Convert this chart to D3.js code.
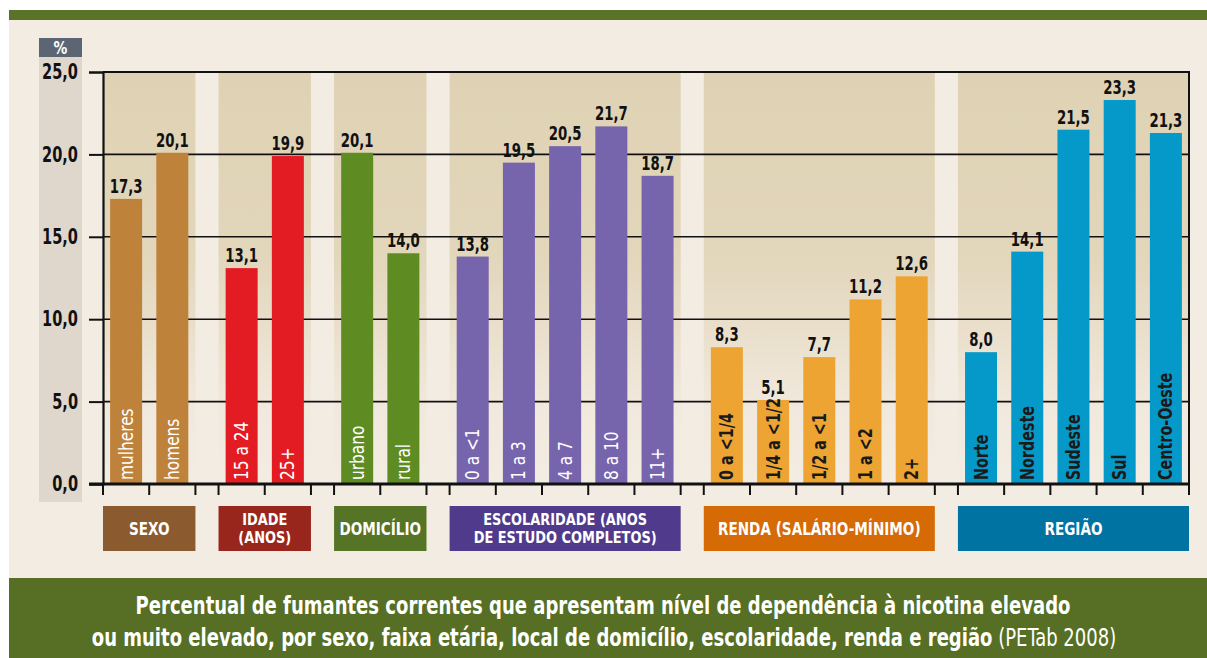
<!DOCTYPE html>
<html><head><meta charset="utf-8">
<script src="https://cdn.jsdelivr.net/npm/d3@7"></script>
<style>
html,body{margin:0;padding:0;background:#fff;}
svg{display:block;}
text{font-family:"DejaVu Sans Condensed","Liberation Sans Narrow",sans-serif;}
</style></head>
<body>
<svg id="c" width="1207" height="658"></svg>
<script>
// ---- data ----
const groupNames = ["SEXO", "IDADE\n(ANOS)", "DOMICÍLIO", "ESCOLARIDADE (ANOS\nDE ESTUDO COMPLETOS)", "RENDA (SALÁRIO-MÍNIMO)", "REGIÃO"];
const sexoCats = ["mulheres", "homens"];
const sexoVals = [17.3, 20.1];
const idadeCats = ["15 a 24", "25+"];
const idadeVals = [13.1, 19.9];
const domicilioCats = ["urbano", "rural"];
const domicilioVals = [20.1, 14.0];
const escolaridadeCats = ["0 a <1", "1 a 3", "4 a 7", "8 a 10", "11+"];
const escolaridadeVals = [13.8, 19.5, 20.5, 21.7, 18.7];
const rendaCats = ["0 a <1/4", "1/4 a <1/2", "1/2 a <1", "1 a <2", "2+"];
const rendaVals = [8.3, 5.1, 7.7, 11.2, 12.6];
const regiaoCats = ["Norte", "Nordeste", "Sudeste", "Sul", "Centro-Oeste"];
const regiaoVals = [8.0, 14.1, 21.5, 23.3, 21.3];
const yTicks = [0, 5, 10, 15, 20, 25];
const captionLine1 = "Percentual de fumantes correntes que apresentam nível de dependência à nicotina elevado";
const captionLine2 = "ou muito elevado, por sexo, faixa etária, local de domicílio, escolaridade, renda e região";
const captionSource = " (PETab 2008)";

// ---- styles ----
const barColors = ["#bf823b", "#e31b23", "#5e8c22", "#7664ad", "#eda433", "#0599c9"];
const boxColors = ["#8b5a2e", "#98261c", "#557426", "#4f3a8c", "#d66a05", "#0073a3"];
const inLabelColors = ["#fff", "#fff", "#fff", "#fff", "#1a1a1a", "#1a1a1a"];

const groups = [
  [sexoCats, sexoVals], [idadeCats, idadeVals], [domicilioCats, domicilioVals],
  [escolaridadeCats, escolaridadeVals], [rendaCats, rendaVals], [regiaoCats, regiaoVals]
].map((g, i) => ({name: groupNames[i], cats: g[0], vals: g[1], idx: i}));

const gapUnits = 0.5;
let u = 0;
groups.forEach((g, i) => { g.start = u; g.end = u + g.cats.length; u = g.end + gapUnits; });
const totalUnits = groups[groups.length - 1].end;

const L = 103, R = 1189, T = 72, B = 484;
const x = d3.scaleLinear().domain([0, totalUnits]).range([L, R]);
const y = d3.scaleLinear().domain([0, 25]).range([B, T]);
const barW = 32;

const loc = d3.formatLocale({decimal: ",", thousands: ".", grouping: [3], currency: ["R$", ""]});
const f1 = loc.format(".1f");

const svg = d3.select("#c");

// backgrounds
svg.append("rect").attr("x", 9).attr("y", 10).attr("width", 1198).attr("height", 10).attr("fill", "#5a7328");
svg.append("rect").attr("x", 9).attr("y", 20).attr("width", 1198).attr("height", 558).attr("fill", "#f3ece2");
svg.append("rect").attr("x", 9).attr("y", 578).attr("width", 1198).attr("height", 80).attr("fill", "#566f24");

const defs = svg.append("defs");
const grad = defs.append("linearGradient").attr("id", "pg").attr("x1", 0).attr("y1", 0).attr("x2", 0).attr("y2", 1);
grad.append("stop").attr("offset", "0%").attr("stop-color", "#dfd2b4");
grad.append("stop").attr("offset", "45%").attr("stop-color", "#e2d6bb");
grad.append("stop").attr("offset", "82%").attr("stop-color", "#f1e9dd");
grad.append("stop").attr("offset", "100%").attr("stop-color", "#f3ece2");

// left gray band and % box
svg.append("rect").attr("x", 39).attr("y", 57).attr("width", 43).attr("height", 445).attr("fill", "#e0d7cc");
svg.append("rect").attr("x", 39).attr("y", 38).attr("width", 43).attr("height", 19).attr("fill", "#5b6574");
svg.append("text").attr("transform", "translate(60.5,54) scale(0.85,1)").attr("text-anchor", "middle").attr("fill", "#fff")
  .attr("font-weight", "bold").attr("font-size", 18).text("%");

// group panels
svg.append("g").selectAll("rect").data(groups).join("rect")
  .attr("x", d => x(d.start)).attr("width", d => x(d.end) - x(d.start))
  .attr("y", T).attr("height", B - T).attr("fill", "url(#pg)");

// gridlines
svg.append("g").selectAll("line").data(yTicks.filter(t => t > 0)).join("line")
  .attr("x1", L).attr("x2", R).attr("y1", d => y(d)).attr("y2", d => y(d))
  .attr("stroke", "#111").attr("stroke-width", d => d === 25 ? 2.2 : 1.6);

// right border
svg.append("line").attr("x1", R).attr("x2", R).attr("y1", T - 1).attr("y2", B + 11)
  .attr("stroke", "#111").attr("stroke-width", 2);

// bars
const bars = [];
groups.forEach(g => g.cats.forEach((c, i) => bars.push({g: g.idx, cat: c, val: g.vals[i], pos: g.start + i + 0.5})));

svg.append("g").selectAll("rect").data(bars).join("rect")
  .attr("x", d => x(d.pos) - barW / 2).attr("width", barW)
  .attr("y", d => y(d.val)).attr("height", d => B - y(d.val))
  .attr("fill", d => barColors[d.g]);

// value labels
svg.append("g").selectAll("text").data(bars).join("text")
  .attr("transform", d => `translate(${x(d.pos)},${y(d.val) - 6}) scale(0.74,1)`)
  .attr("text-anchor", "middle").attr("font-weight", "bold").attr("font-size", 20).attr("fill", "#111")
  .text(d => f1(d.val));

// in-bar labels
svg.append("g").selectAll("text").data(bars).join("text")
  .attr("transform", d => `translate(${x(d.pos) + 6.5},${B - 4}) rotate(-90) scale(${d.g >= 4 ? 0.84 : 0.9},1)`)
  .attr("text-anchor", "start").attr("font-size", 19)
  .attr("font-weight", d => d.g >= 4 ? "bold" : "normal")
  .attr("fill", d => inLabelColors[d.g])
  .text(d => d.cat);

// y axis
const yAxis = d3.axisLeft(y).tickValues(yTicks).tickSize(14).tickPadding(10).tickFormat(f1);
const ya = svg.append("g").attr("transform", `translate(${L},0)`).call(yAxis);
ya.select(".domain").attr("stroke", "#111").attr("stroke-width", 2.2);
ya.selectAll(".tick line").attr("stroke", "#111").attr("stroke-width", 2);
ya.selectAll(".tick text").attr("x", null).attr("transform", "translate(-25,0) scale(0.77,1)")
  .attr("font-size", 21).attr("font-weight", "bold").attr("fill", "#111")
  .style("font-family", '"DejaVu Sans Condensed",sans-serif');

// x axis baseline and ticks
svg.append("line").attr("x1", L - 14).attr("x2", R + 1).attr("y1", B).attr("y2", B).attr("stroke", "#111").attr("stroke-width", 3);
const xt = [];
groups.forEach(g => { for (let k = g.start; k <= g.end; k++) xt.push(k); });
svg.append("g").selectAll("line").data(xt).join("line")
  .attr("x1", d => x(d)).attr("x2", d => x(d)).attr("y1", B).attr("y2", B + 11)
  .attr("stroke", "#111").attr("stroke-width", 2);

// category boxes
const boxes = svg.append("g").selectAll("g").data(groups).join("g");
boxes.append("rect").attr("x", d => x(d.start)).attr("width", d => x(d.end) - x(d.start))
  .attr("y", 506).attr("height", 45).attr("fill", d => boxColors[d.idx]);
boxes.each(function(d) {
  const lines = d.name.split("\n");
  const cx = (x(d.start) + x(d.end)) / 2;
  const single = lines.length === 1;
  lines.forEach((ln, i) => {
    const ly = 528.5 + (single ? 6.5 : 5.5) + (i - (lines.length - 1) / 2) * 18;
    d3.select(this).append("text").attr("text-anchor", "middle").attr("fill", "#fff")
      .attr("font-weight", "bold").attr("font-size", single ? 18 : 16)
      .attr("transform", `translate(${cx},${ly}) scale(${single ? 0.84 : 0.9},1)`)
      .text(ln);
  });
});

// caption
const cap = svg.append("g").attr("fill", "#fff").attr("text-anchor", "middle").attr("font-size", 24);
cap.append("text").attr("transform", "translate(603,614) scale(0.835,1)").attr("font-weight", "bold").text(captionLine1);
const c2 = cap.append("text").attr("transform", "translate(604,646) scale(0.835,1)");
c2.append("tspan").attr("font-weight", "bold").text(captionLine2);
c2.append("tspan").attr("font-weight", "normal").text(captionSource);
</script>
</body></html>
